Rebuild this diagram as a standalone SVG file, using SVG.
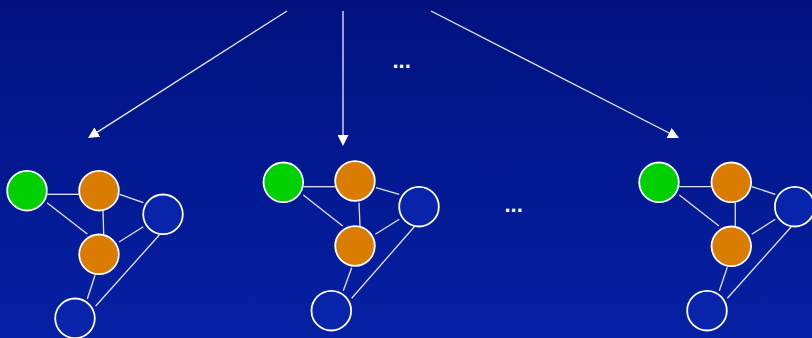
<svg xmlns="http://www.w3.org/2000/svg" width="812" height="338" viewBox="0 0 812 338">
  <defs>
    <linearGradient id="bg" x1="0" y1="0" x2="0" y2="1">
      <stop offset="0" stop-color="#01127f"/>
      <stop offset="1" stop-color="#0620a4"/>
    </linearGradient>
    <marker id="head" viewBox="0 -5.5 11 11" refX="0" refY="0" markerWidth="11" markerHeight="11" markerUnits="userSpaceOnUse" orient="auto">
      <path d="M0,-5.5 L11,0 L0,5.5 z" fill="#ffffff"/>
    </marker>
  </defs>
  <style>
    .arrow { stroke: #e8ecff; stroke-width: 1.3; fill: none; }
    .edge { stroke: #dfe4f5; stroke-width: 1.3; fill: none; }
    .node { stroke: #ffffff; stroke-width: 1.8; }
    .start { fill: #00d000; }
    .visited { fill: #d97c00; }
    .open { fill: #0824aa; }
    .dots { font-family: "Liberation Sans", Arial, sans-serif; font-weight: bold; font-size: 22px; fill: #ffffff; }
  </style>

  <rect x="0" y="0" width="812" height="338" fill="url(#bg)"/>

  <!-- branching arrows from the top -->
  <g id="arrows">
    <line class="arrow" x1="287" y1="11" x2="97.3" y2="132.1" marker-end="url(#head)"/>
    <line class="arrow" x1="343" y1="11" x2="343" y2="135" marker-end="url(#head)"/>
    <line class="arrow" x1="431" y1="11" x2="669.2" y2="133" marker-end="url(#head)"/>
  </g>

  <text class="dots" x="392.5" y="68">...</text>
  <text class="dots" x="504.5" y="212">...</text>

  <!-- edges of the three graph copies -->
  <g id="connectors">
    <!-- graph A -->
    <line class="edge" x1="47" y1="194.3" x2="79" y2="194.3"/>
    <line class="edge" x1="47" y1="202.7" x2="87.3" y2="234"/>
    <line class="edge" x1="103" y1="211" x2="103.7" y2="234.3"/>
    <line class="edge" x1="119.7" y1="194.3" x2="143.3" y2="202.7"/>
    <line class="edge" x1="119" y1="242" x2="143.3" y2="226.7"/>
    <line class="edge" x1="95" y1="275.3" x2="87.3" y2="299"/>
    <line class="edge" x1="159.3" y1="235" x2="95.7" y2="306"/>
    <!-- graph B -->
    <line class="edge" x1="303.3" y1="186.7" x2="335" y2="186.7"/>
    <line class="edge" x1="303.3" y1="195" x2="342.7" y2="226"/>
    <line class="edge" x1="359" y1="202.7" x2="360" y2="226"/>
    <line class="edge" x1="376" y1="187.7" x2="399.3" y2="194.3"/>
    <line class="edge" x1="375.3" y1="234.3" x2="399.3" y2="219.3"/>
    <line class="edge" x1="351.7" y1="267.7" x2="343.3" y2="290.7"/>
    <line class="edge" x1="414.3" y1="226.7" x2="351.7" y2="298.3"/>
    <!-- graph C -->
    <line class="edge" x1="679.3" y1="186.7" x2="711.7" y2="186.7"/>
    <line class="edge" x1="679.3" y1="195" x2="719" y2="226"/>
    <line class="edge" x1="735.3" y1="202.7" x2="735.3" y2="226"/>
    <line class="edge" x1="751.7" y1="186.7" x2="775.3" y2="194.3"/>
    <line class="edge" x1="751.7" y1="234.3" x2="775.3" y2="219.3"/>
    <line class="edge" x1="727.3" y1="267.3" x2="719.3" y2="290.7"/>
    <line class="edge" x1="791.3" y1="226.7" x2="727.3" y2="298.3"/>
  </g>

  <!-- graph A nodes -->
  <g id="a-start"><circle class="node start" cx="27" cy="190.7" r="19.8"/></g>
  <g id="a-top"><circle class="node visited" cx="99" cy="190.7" r="19.8"/></g>
  <g id="a-right"><circle class="node open" cx="163" cy="214.3" r="19.8"/></g>
  <g id="a-mid"><circle class="node visited" cx="99" cy="254.3" r="19.8"/></g>
  <g id="a-bottom"><circle class="node open" cx="75" cy="318.3" r="19.8"/></g>

  <!-- graph B nodes -->
  <g id="b-start"><circle class="node start" cx="283.3" cy="182.3" r="19.8"/></g>
  <g id="b-top"><circle class="node visited" cx="355" cy="181" r="19.8"/></g>
  <g id="b-right"><circle class="node open" cx="419" cy="206.7" r="19.8"/></g>
  <g id="b-mid"><circle class="node visited" cx="355" cy="246" r="19.8"/></g>
  <g id="b-bottom"><circle class="node open" cx="331.3" cy="310.7" r="19.8"/></g>

  <!-- graph C nodes -->
  <g id="c-start"><circle class="node start" cx="659" cy="182.3" r="19.8"/></g>
  <g id="c-top"><circle class="node visited" cx="731.3" cy="182.3" r="19.8"/></g>
  <g id="c-right"><circle class="node open" cx="794.7" cy="206.7" r="19.8"/></g>
  <g id="c-mid"><circle class="node visited" cx="731.3" cy="246.3" r="19.8"/></g>
  <g id="c-bottom"><circle class="node open" cx="707" cy="310.7" r="19.8"/></g>
</svg>
